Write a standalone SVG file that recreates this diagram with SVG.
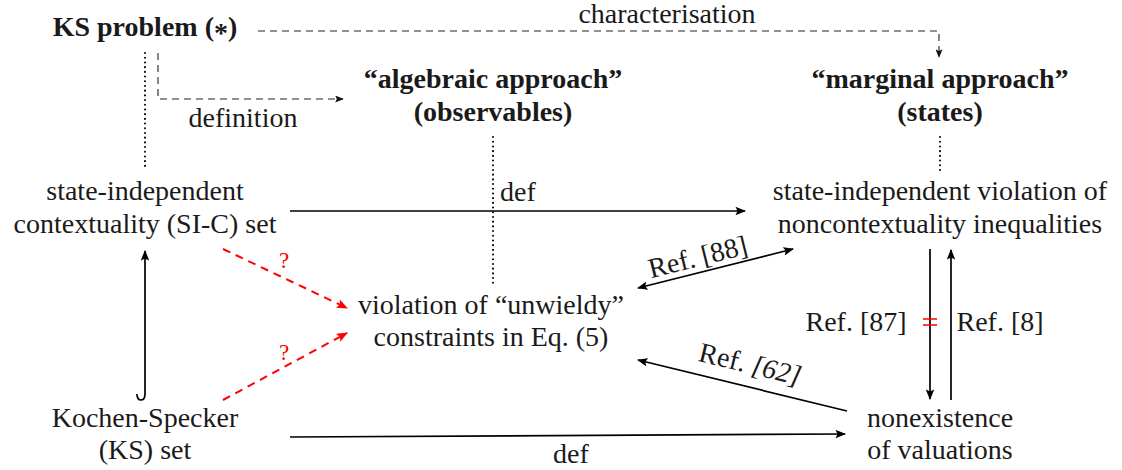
<svg xmlns="http://www.w3.org/2000/svg" width="1122" height="470" viewBox="0 0 1122 470">
<style>
.t{font-family:'Liberation Serif',serif;font-size:28px;fill:#1a1a1a}
.b{font-weight:bold}
.s{fill:none;stroke:#000;stroke-width:1.7}
.d{fill:none;stroke:#222;stroke-width:1.1;stroke-dasharray:7,5}
.o{fill:none;stroke:#000;stroke-width:2;stroke-dasharray:0.1,4.6;stroke-linecap:round}
.r{fill:none;stroke:#f00;stroke-width:2;stroke-dasharray:8,6}
.rt{fill:#f00;font-size:23px}
</style>
<defs>
<marker id="a" viewBox="0 0 10 8" refX="9" refY="4" markerWidth="11" markerHeight="8.5" markerUnits="userSpaceOnUse" orient="auto-start-reverse"><path d="M0,0 L10,4 L0,8 L2,4 z" fill="#000"/></marker>
<marker id="ad" viewBox="0 0 10 8" refX="9" refY="4" markerWidth="9" markerHeight="7" markerUnits="userSpaceOnUse" orient="auto"><path d="M0,0 L10,4 L0,8 L2,4 z" fill="#111"/></marker>
<marker id="ar" viewBox="0 0 10 8" refX="9" refY="4" markerWidth="12" markerHeight="9" markerUnits="userSpaceOnUse" orient="auto"><path d="M0,0 L10,4 L0,8 L2,4 z" fill="#f00"/></marker>
</defs>
<g font-family="Liberation Serif" text-anchor="middle">
<g id="n-ks-problem"><text class="t b" x="145" y="36">KS problem (<tspan dy="6">*</tspan><tspan dy="-6">)</tspan></text></g>
<g id="n-algebraic"><text class="t b" x="493" y="88">“algebraic approach”</text><text class="t b" x="493" y="121">(observables)</text></g>
<g id="n-marginal"><text class="t b" x="940" y="88">“marginal approach”</text><text class="t b" x="940" y="121">(states)</text></g>
<g id="n-sic"><text class="t" x="145" y="200">state-independent</text><text class="t" x="145" y="233">contextuality (SI-C) set</text></g>
<g id="n-sivni"><text class="t" x="940" y="200">state-independent violation of</text><text class="t" x="940" y="233">noncontextuality inequalities</text></g>
<g id="n-unwieldy"><text class="t" x="491" y="314">violation of “unwieldy”</text><text class="t" x="491" y="346">constraints in Eq. (5)</text></g>
<g id="n-ks-set"><text class="t" x="145" y="427">Kochen-Specker</text><text class="t" x="145" y="459">(KS) set</text></g>
<g id="n-noval"><text class="t" x="940" y="427">nonexistence</text><text class="t" x="940" y="459">of valuations</text></g>

<g id="connectors">
<path class="d" d="M258,31 H939 V57" marker-end="url(#ad)"/>
<text class="t" x="667" y="23">characterisation</text>
<path class="d" d="M158,53 V99 H343" marker-end="url(#ad)"/>
<text class="t" x="243" y="127">definition</text>
<path class="o" d="M145,53 V170"/>
<path class="o" d="M940,137 V170"/>
<path class="o" d="M493,137 V287"/>
<path class="s" d="M290,211 H745" marker-end="url(#a)"/>
<text class="t" x="518" y="201">def</text>
<path class="s" d="M290,437 L845,434" marker-end="url(#a)"/>
<text class="t" x="571" y="463">def</text>
<path class="s" d="M137,394 Q137,400 141,400 Q145,400 145,394 V251" marker-end="url(#a)"/>
<path class="r" d="M223,249 L347,308" marker-end="url(#ar)"/>
<text class="t rt" x="284" y="268">?</text>
<path class="r" d="M223,400 L347,333" marker-end="url(#ar)"/>
<text class="t rt" x="284" y="360">?</text>
<path class="s" d="M638,288 L793,249" marker-start="url(#a)" marker-end="url(#a)"/>
<text class="t" x="700" y="266" transform="rotate(-14.1 700 266)">Ref. [88]</text>
<path class="s" d="M847,411 L638,360" marker-end="url(#a)"/>
<text class="t" x="748" y="373" transform="rotate(13.7 748 373)">Ref. <tspan font-style="italic">[62]</tspan></text>
<path class="s" d="M930,249 V399" marker-end="url(#a)"/>
<path class="s" d="M951,400 V250" marker-end="url(#a)"/>
<path d="M923,319 H937 M923,325 H937" stroke="#f00" stroke-width="1.4"/>
<text class="t" x="856" y="331">Ref. [87]</text>
<text class="t" x="1000" y="331">Ref. [8]</text>
</g>
</g>
</svg>
